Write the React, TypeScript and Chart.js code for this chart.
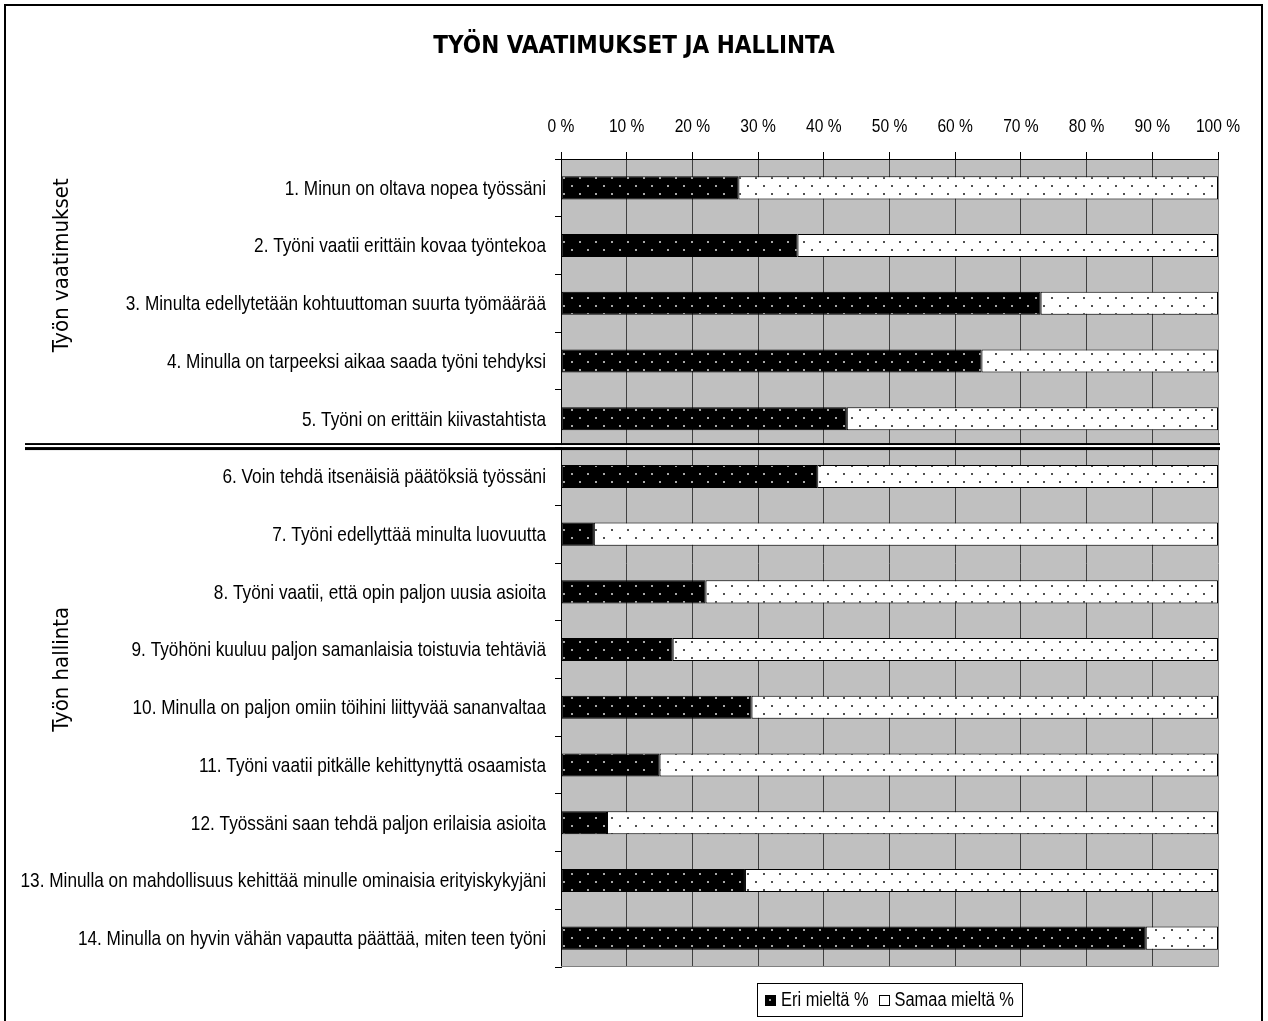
import React, { useEffect, useRef } from "react";
import { Chart, registerables } from "chart.js";

Chart.register(...registerables);

// ---- data ----
const chartTitle = "TYÖN VAATIMUKSET JA HALLINTA";

const statements = [
  "1. Minun on oltava nopea työssäni",
  "2. Työni vaatii erittäin kovaa työntekoa",
  "3. Minulta edellytetään kohtuuttoman suurta työmäärää",
  "4. Minulla on tarpeeksi aikaa saada työni tehdyksi",
  "5. Työni on erittäin kiivastahtista",
  "6. Voin tehdä itsenäisiä päätöksiä työssäni",
  "7. Työni edellyttää minulta luovuutta",
  "8. Työni vaatii, että opin paljon uusia asioita",
  "9. Työhöni kuuluu paljon samanlaisia toistuvia tehtäviä",
  "10. Minulla on paljon omiin töihini liittyvää sananvaltaa",
  "11. Työni vaatii pitkälle kehittynyttä osaamista",
  "12. Työssäni saan tehdä paljon erilaisia asioita",
  "13. Minulla on mahdollisuus kehittää minulle ominaisia erityiskykyjäni",
  "14. Minulla on hyvin vähän vapautta päättää, miten teen työni",
];

const groupNames = ["Työn vaatimukset", "Työn hallinta"];
const groupSizes = [5, 9];

const seriesNames = ["Eri mieltä %", "Samaa mieltä %"];
const eriMielta = [27, 36, 73, 64, 43.5, 39, 5, 22, 17, 29, 15, 7, 28, 89];
const samaaMielta = [73, 64, 27, 36, 56.5, 61, 95, 78, 83, 71, 85, 93, 72, 11];

const percentTicks = [0, 10, 20, 30, 40, 50, 60, 70, 80, 90, 100];

// Arial-metric face, squeezed horizontally to get a narrow look
const SANS = "'Liberation Sans', Arial, sans-serif";
const NARROW = 0.82;
const COND = "'DejaVu Sans Condensed', 'DejaVu Sans', sans-serif";

function narrowText(
  ctx: CanvasRenderingContext2D,
  text: string,
  x: number,
  y: number,
  size: number,
  align: CanvasTextAlign,
) {
  ctx.save();
  ctx.font = `${size}px ${SANS}`;
  ctx.textAlign = align;
  ctx.textBaseline = "middle";
  ctx.fillStyle = "#000";
  ctx.translate(x, y);
  ctx.scale(NARROW, 1);
  ctx.fillText(text, 0, 0);
  ctx.restore();
}

function narrowWidth(ctx: CanvasRenderingContext2D, text: string, size: number) {
  ctx.save();
  ctx.font = `${size}px ${SANS}`;
  const w = ctx.measureText(text).width * NARROW;
  ctx.restore();
  return w;
}

function dotPattern(ctx: CanvasRenderingContext2D, bg: string, dot: string) {
  const tile = document.createElement("canvas");
  tile.width = 16;
  tile.height = 16;
  const g = tile.getContext("2d")!;
  g.fillStyle = bg;
  g.fillRect(0, 0, 16, 16);
  g.fillStyle = dot;
  g.fillRect(3, 1, 2, 2);
  g.fillRect(11, 9, 2, 2);
  return ctx.createPattern(tile, "repeat")!;
}

const decorPlugin = {
  id: "decor",
  beforeDraw(chart: any) {
    const { ctx, chartArea: a } = chart;
    ctx.save();
    ctx.fillStyle = "#ffffff";
    ctx.fillRect(0, 0, chart.width, chart.height);
    ctx.fillStyle = "#c0c0c0";
    ctx.fillRect(a.left, a.top, a.right - a.left, a.bottom - a.top);
    ctx.restore();
  },
  afterDraw(chart: any) {
    const { ctx, chartArea: a } = chart;
    const yScale = chart.scales.y;
    const xScale = chart.scales.x;
    ctx.save();

    // outer frame
    ctx.strokeStyle = "#000";
    ctx.lineWidth = 2;
    ctx.beginPath();
    ctx.moveTo(5, chart.height + 5);
    ctx.lineTo(5, 5);
    ctx.lineTo(1262, 5);
    ctx.lineTo(1262, chart.height + 5);
    ctx.stroke();

    // bottom edge of the plot
    ctx.strokeStyle = "#808080";
    ctx.lineWidth = 1;
    ctx.beginPath();
    ctx.moveTo(a.left, a.bottom - 0.5);
    ctx.lineTo(a.right, a.bottom - 0.5);
    ctx.stroke();

    // title
    ctx.fillStyle = "#000";
    ctx.font = `bold 24px ${COND}`;
    ctx.textAlign = "center";
    ctx.textBaseline = "middle";
    ctx.fillText(chartTitle, 634, 47);

    // percentage tick labels along the top axis
    percentTicks.forEach((v) => {
      narrowText(ctx, `${v} %`, xScale.getPixelForValue(v), 127, 19, "center");
    });

    // statement labels
    chart.data.labels.forEach((lbl: string, i: number) => {
      narrowText(ctx, lbl, a.left - 15, yScale.getPixelForValue(i) + 1, 21, "right");
    });

    // group separator (double line)
    const step = yScale.getPixelForValue(1) - yScale.getPixelForValue(0);
    const sepY = yScale.getPixelForValue(groupSizes[0] - 1) + step / 2;
    const x0 = 25;
    const x1 = a.right + 2;
    ctx.fillStyle = "#000";
    ctx.fillRect(x0, sepY - 4.5, x1 - x0, 2);
    ctx.fillStyle = "#fff";
    ctx.fillRect(x0, sepY - 2.5, x1 - x0, 2);
    ctx.fillStyle = "#000";
    ctx.fillRect(x0, sepY - 0.5, x1 - x0, 3);

    // group labels, rotated
    ctx.font = `22px ${COND}`;
    ctx.fillStyle = "#000";
    let start = 0;
    groupNames.forEach((name, gi) => {
      const end = start + groupSizes[gi] - 1;
      const cy = (yScale.getPixelForValue(start) + yScale.getPixelForValue(end)) / 2 - 38;
      ctx.save();
      ctx.translate(62, cy);
      ctx.rotate(-Math.PI / 2);
      ctx.textAlign = "center";
      ctx.textBaseline = "middle";
      ctx.fillText(name, 0, 0);
      ctx.restore();
      start = end + 1;
    });

    // legend
    const lsize = 20;
    const box = 10;
    const gapMarker = 6;
    const gapItems = 10;
    const widths = seriesNames.map((n) => narrowWidth(ctx, n, lsize));
    const inner =
      widths.reduce((s, w) => s + w, 0) + seriesNames.length * (box + gapMarker) + gapItems * (seriesNames.length - 1);
    const padX = 8;
    const lw = inner + padX * 2;
    const lx = (a.left + a.right) / 2 - lw / 2;
    const ly = 983;
    const lh = 33;
    ctx.fillStyle = "#fff";
    ctx.fillRect(lx, ly, lw, lh);
    ctx.strokeStyle = "#000";
    ctx.lineWidth = 1;
    ctx.strokeRect(Math.round(lx) + 0.5, ly + 0.5, Math.round(lw), lh);
    let cx = lx + padX;
    const cyL = ly + lh / 2;
    chart.data.datasets.forEach((_ds: any, i: number) => {
      const bx = Math.round(cx) + 0.5;
      const by = Math.round(cyL - box / 2) + 0.5;
      ctx.fillStyle = i === 0 ? "#000" : "#fff";
      ctx.fillRect(bx, by, box, box);
      ctx.strokeStyle = "#000";
      ctx.strokeRect(bx, by, box, box);
      if (i === 0) {
        ctx.fillStyle = "#a0a0a0";
        ctx.fillRect(Math.round(cx) + 4, Math.round(cyL) - 1, 2, 2);
      }
      cx += box + gapMarker;
      narrowText(ctx, seriesNames[i], cx, cyL + 1, lsize, "left");
      cx += widths[i] + gapItems;
    });

    ctx.restore();
  },
};

export default function App() {
  const ref = useRef<HTMLCanvasElement | null>(null);

  useEffect(() => {
    const canvas = ref.current!;
    const ctx = canvas.getContext("2d")!;
    const blackDots = dotPattern(ctx, "#000000", "#a8a8a8");
    const whiteDots = dotPattern(ctx, "#ffffff", "#505050");

    const chart = new Chart(canvas, {
      type: "bar",
      data: {
        labels: statements,
        datasets: [
          {
            label: seriesNames[0],
            data: eriMielta,
            backgroundColor: blackDots,
            borderColor: "#000",
            borderWidth: 1,
            borderSkipped: false,
            barPercentage: 0.4,
            categoryPercentage: 1,
          },
          {
            label: seriesNames[1],
            data: samaaMielta,
            backgroundColor: whiteDots,
            borderColor: "#000",
            borderWidth: 1,
            borderSkipped: false,
            barPercentage: 0.4,
            categoryPercentage: 1,
          },
        ],
      },
      options: {
        indexAxis: "y",
        responsive: false,
        animation: false,
        layout: { padding: { left: 0, top: 0, right: 50, bottom: 54 } },
        plugins: {
          legend: { display: false },
          title: { display: false },
          tooltip: { enabled: false },
        },
        scales: {
          x: {
            position: "top",
            stacked: true,
            min: 0,
            max: 100,
            afterBuildTicks: (scale: any) => {
              scale.ticks = percentTicks.map((v) => ({ value: v }));
            },
            afterFit: (scale: any) => {
              scale.height = 159;
            },
            ticks: { display: false },
            grid: {
              color: (c: any) => (c.index === percentTicks.length - 1 ? "#808080" : "#404040"),
              tickColor: "#000",
              tickLength: 7,
              lineWidth: 1,
            },
            border: { color: "#000", width: 1 },
          },
          y: {
            stacked: true,
            afterFit: (scale: any) => {
              scale.width = 561;
            },
            ticks: { display: false, autoSkip: false },
            grid: {
              offset: true,
              drawOnChartArea: false,
              tickColor: "#000",
              tickLength: 6,
            },
            border: { color: "#000", width: 1 },
          },
        },
      },
      plugins: [decorPlugin],
    });

    return () => chart.destroy();
  }, []);

  return (
    <div style={{ position: "absolute", left: 0, top: 0, width: 1268, height: 1021 }}>
      <canvas ref={ref} width={1268} height={1021} style={{ display: "block" }} />
    </div>
  );
}
